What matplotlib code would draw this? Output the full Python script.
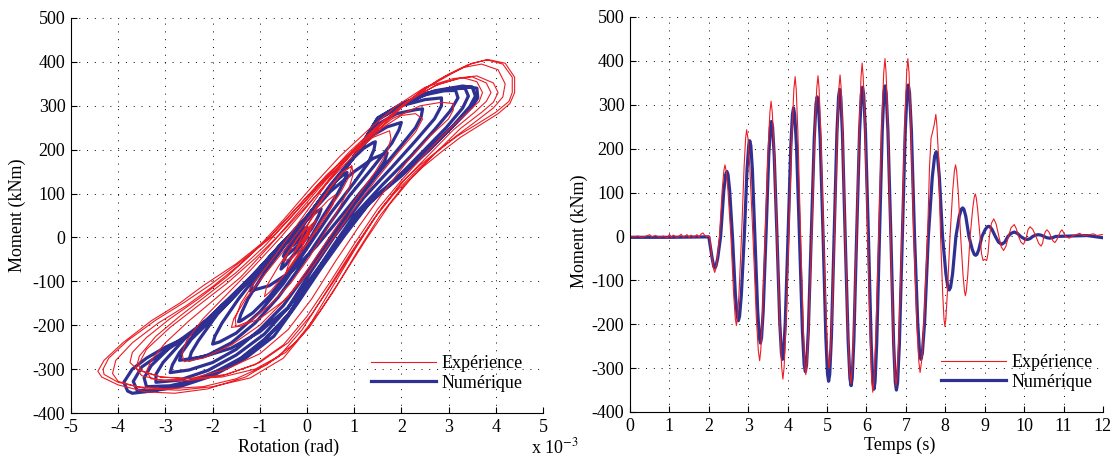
import numpy as np
import matplotlib.pyplot as plt

plt.rcParams['font.family'] = ['Liberation Serif', 'DejaVu Serif']
plt.rcParams['mathtext.fontset'] = 'stix'
plt.rcParams['font.size'] = 13
plt.rcParams['axes.unicode_minus'] = False

red = '#ec1c24'
blue = '#2e3192'

# ---- left: moment vs rotation (rotation in 1e-3 rad) ----
# numerical model, one line per half-cycle
rot_num = [
    0.0, -0.25, -0.45, -0.55,
    -0.5, -0.3, 0.0, 0.3, 0.6, 0.8, 0.85,
    0.8, 0.65, 0.35, 0.0, -0.4, -0.8, -1.15, -1.4, -1.45,
    -1.4, -1.25, -0.9, -0.45, 0.0, 0.5, 0.9, 1.2, 1.4, 1.45,
    1.42, 1.3, 1.0, 0.5, 0.0, -0.5, -1.0, -1.5, -1.85, -2.0,
    -1.95, -1.8, -1.45, -1.0, -0.5, 0.0, 0.55, 1.0, 1.35, 1.7, 2.0,
    1.95, 1.8, 1.4, 0.9, 0.4, -0.1, -0.6, -1.1, -1.6, -2.1, -2.5,
    -2.45, -2.3, -1.9, -1.4, -0.9, -0.45, 0.0, 0.55, 1.04, 1.45, 1.9, 2.3, 2.45,
    2.42, 2.3, 2.0, 1.5, 1.0, 0.5, 0.0, -0.5, -1.0, -1.5, -2.0, -2.5, -2.9,
    -2.85, -2.7, -2.3, -1.85, -1.45, -1.0, -0.5, 0.0, 0.55, 1.04, 1.5, 2.0, 2.5, 2.85,
    2.85, 2.7, 2.3, 1.8, 1.2, 0.6, 0.1, -0.4, -0.9, -1.5, -2.1, -2.7, -3.2,
    -3.2, -3.05, -2.6, -2.2, -1.85, -1.45, -1.0, -0.5, 0.0, 0.55, 1.04, 1.5, 2.0, 2.5, 2.9, 3.15,
    3.2, 3.05, 2.7, 2.2, 1.6, 1.0, 0.55, 0.1, -0.35, -0.9, -1.5, -2.2, -2.9, -3.4,
    -3.45, -3.3, -2.9, -2.45, -2.0, -1.5, -1.0, -0.5, 0.0, 0.55, 1.04, 1.5, 2.0, 2.5, 3.0, 3.35,
    3.42, 3.3, 2.95, 2.45, 1.9, 1.3, 0.8, 0.3, -0.2, -0.7, -1.3, -2.0, -2.7, -3.3, -3.6,
    -3.68, -3.5, -3.0, -2.6, -2.2, -1.75, -1.2, -0.6, 0.0, 0.55, 1.04, 1.5, 2.0, 2.6, 3.1, 3.5,
    3.57, 3.45, 3.1, 2.6, 2.0, 1.35, 0.9, 0.5, 0.06, -0.42, -0.9, -1.4, -1.9, -2.6, -3.3, -3.7, -3.8,
    -3.88, -3.7, -3.4, -3.0, -2.6, -2.2, -1.85, -1.0, -0.5, 0.0, 0.55, 1.04, 1.5, 2.0, 2.7, 3.3, 3.6,
    3.62, 3.5, 3.2, 2.67, 1.96, 1.3, 0.9, 0.55, 0.1, -0.4, -1.0, -1.6, -2.2, -2.7,
    -2.65, -2.45, -2.0, -1.5, -1.0, -0.5, 0.0, 0.5, 1.0, 1.4, 1.7,
    1.65, 1.5, 1.15, 0.7, 0.2, -0.3, -0.8, -1.2,
    -1.15, -0.95, -0.55, -0.15, 0.15, 0.3,
    0.25, 0.1, -0.15, -0.4, -0.5,
    -0.45, -0.3, -0.1, 0.0, -0.05, -0.2, -0.3, -0.2, -0.1, -0.12, -0.2, -0.15,
]
mom_num = [
    0, -35, -62, -72,
    -55, -10, 40, 90, 128, 145, 148,
    130, 100, 50, -15, -80, -135, -172, -190, -192,
    -175, -140, -80, -15, 45, 120, 172, 203, 216, 218,
    200, 170, 125, 55, -25, -105, -170, -218, -238, -243,
    -225, -195, -140, -78, -12, 48, 122, 185, 230, 252, 262,
    245, 215, 160, 95, 20, -60, -135, -195, -240, -268, -280,
    -262, -235, -175, -118, -62, -5, 47, 122, 190, 255, 282, 291, 293,
    275, 250, 210, 145, 75, 0, -80, -155, -210, -255, -285, -302, -308,
    -290, -262, -210, -160, -120, -70, -10, 45, 120, 190, 268, 300, 314, 318,
    300, 270, 220, 160, 90, 5, -75, -160, -220, -268, -303, -325, -330,
    -312, -285, -232, -195, -160, -120, -70, -10, 45, 120, 190, 270, 302, 325, 334, 335,
    318, 290, 245, 185, 120, 50, -20, -95, -170, -235, -285, -320, -338, -340,
    -320, -292, -250, -215, -178, -125, -70, -10, 45, 120, 190, 272, 303, 328, 338, 340,
    322, 295, 250, 195, 135, 75, 5, -70, -150, -225, -275, -315, -340, -350, -348,
    -328, -295, -258, -230, -198, -152, -92, -22, 45, 120, 190, 272, 304, 330, 340, 343,
    322, 298, 255, 200, 140, 82, 25, -35, -100, -180, -232, -275, -304, -334, -350, -355, -350,
    -330, -300, -275, -250, -230, -198, -160, -70, -10, 45, 120, 190, 270, 302, 334, 345, 340,
    318, 298, 265, 209, 140, 80, 30, -25, -90, -160, -215, -252, -272, -280,
    -262, -232, -185, -130, -70, -10, 45, 105, 150, 180, 193,
    175, 150, 105, 45, -20, -75, -110, -122,
    -105, -75, -25, 25, 55, 65,
    50, 20, -15, -38, -43,
    -30, -5, 18, 23, 10, -10, -18, -5, 8, 3, -5, 0,
]

# experiment, one line per half-cycle
rot_exp = [
    0.0, -0.1, 0.06, -0.06, 0.03, -0.2, -0.4, -0.45,
    -0.4, -0.25, -0.05, 0.2, 0.5, 0.75, 0.95,
    0.98, 0.9, 0.7, 0.4, 0.05, -0.35, -0.8, -1.2, -1.5,
    -1.52, -1.4, -1.1, -0.7, -0.3, 0.1, 0.5, 0.95, 1.4, 1.75,
    1.78, 1.7, 1.45, 1.05, 0.6, 0.1, -0.4, -1.0, -1.6, -2.2, -2.6,
    -2.65, -2.55, -2.2, -1.7, -1.2, -0.6, 0.0, 0.6, 1.2, 1.8, 2.4, 2.85, 3.1, 3.1,
    3.0, 2.6, 2.1, 1.6, 1.1, 0.6, 0.1, -0.4, -1.0, -1.7, -2.4, -3.0, -3.3, -3.4,
    -3.3, -3.0, -2.5, -2.0, -1.4, -0.8, -0.2, 0.4, 1.0, 1.6, 2.2, 2.8, 3.3, 3.6, 3.72, 3.65,
    3.4, 3.0, 2.5, 2.0, 1.5, 1.0, 0.5, 0.0, -0.5, -1.1, -1.8, -2.5, -3.1, -3.5, -3.62,
    -3.55, -3.2, -2.7, -2.1, -1.5, -0.9, -0.3, 0.3, 0.9, 1.5, 2.1, 2.7, 3.2, 3.5, 3.8, 3.9, 3.8,
    3.55, 3.1, 2.6, 2.1, 1.6, 1.1, 0.6, 0.1, -0.4, -1.0, -1.7, -2.4, -3.1, -3.6, -3.75,
    -3.7, -3.4, -2.9, -2.3, -1.7, -1.1, -0.5, 0.1, 0.7, 1.3, 1.9, 2.5, 3.1, 3.6, 3.95, 4.05, 3.95,
    3.7, 3.25, 2.75, 2.25, 1.75, 1.25, 0.75, 0.25, -0.25, -0.85, -1.5, -2.2, -3.0, -3.6, -4.0, -4.12,
    -4.05, -3.7, -3.15, -2.55, -2.0, -1.35, -0.75, -0.15, 0.45, 1.05, 1.6, 2.2, 2.8, 3.3, 3.7, 4.05, 4.2, 4.15,
    3.95, 3.55, 3.15, 2.7, 2.3, 1.85, 1.4, 0.9, 0.4, -0.1, -0.6, -1.3, -2.1, -2.8, -3.4, -4.0, -4.35, -4.43,
    -4.3, -3.9, -3.3, -2.7, -2.2, -1.5, -0.8, -0.2, 0.4, 1.0, 1.5, 2.0, 2.5, 3.0, 3.4, 3.8, 4.15, 4.35, 4.35, 4.28,
    4.0, 3.6, 3.2, 2.8, 2.4, 2.0, 1.5, 1.0, 0.5, 0.0, -0.5, -1.2, -2.0, -2.7, -3.4, -4.0, -4.3, -4.32,
    -4.2, -3.8, -3.2, -2.6, -2.05, -1.4, -0.7, -0.1, 0.5, 1.1, 1.6, 2.1, 2.6, 3.1, 3.5, 3.85, 4.2, 4.4, 4.4, 4.3,
    4.05, 3.65, 3.25, 2.85, 2.45, 2.05, 1.55, 1.05, 0.55, 0.05, -0.45, -1.1, -1.8, -2.5, -3.1, -3.5, -3.57,
    -3.4, -2.9, -2.3, -1.7, -1.1, -0.5, 0.1, 0.7, 1.2, 1.6, 2.0, 2.3, 2.45,
    2.3, 1.9, 1.45, 1.0, 0.5, 0.0, -0.5, -1.0, -1.4, -1.6,
    -1.55, -1.3, -0.9, -0.45, 0.0, 0.4, 0.75, 0.95,
    0.9, 0.7, 0.35, 0.0, -0.4, -0.75, -0.9,
    -0.85, -0.6, -0.25, 0.15, 0.45, 0.6,
    0.55, 0.3, 0.0, -0.3, -0.5,
    -0.4, -0.15, 0.2, 0.1, -0.1, -0.25, -0.1, 0.1, 0.0, -0.1, 0.05, -0.05, 0.05, 0.0,
]
mom_exp = [
    0, -12, 8, -6, 4, -40, -72, -82,
    -65, -30, 15, 65, 115, 148, 163,
    145, 115, 70, 15, -45, -105, -155, -190, -203,
    -185, -150, -100, -45, 15, 75, 135, 190, 228, 243,
    225, 195, 150, 90, 20, -60, -135, -200, -245, -275, -283,
    -265, -235, -185, -130, -75, -5, 70, 150, 220, 270, 300, 308, 305, 290,
    270, 230, 170, 100, 25, -55, -140, -210, -265, -300, -320, -326, -322, -305,
    -280, -240, -190, -145, -90, -20, 55, 130, 200, 262, 315, 350, 364, 355, 330, 310,
    285, 245, 190, 130, 65, -15, -100, -180, -245, -290, -315, -326, -325, -315, -298,
    -270, -225, -180, -130, -80, -20, 50, 125, 195, 255, 308, 345, 362, 366, 352, 330, 310,
    285, 245, 190, 135, 70, -10, -95, -175, -240, -285, -312, -322, -318, -300, -285,
    -262, -228, -185, -140, -90, -30, 40, 115, 185, 245, 300, 342, 362, 368, 352, 330, 308,
    285, 248, 195, 140, 75, -5, -90, -172, -240, -290, -322, -340, -345, -340, -328, -310,
    -280, -240, -195, -155, -112, -55, 5, 75, 145, 205, 260, 315, 360, 387, 395, 382, 350, 320,
    295, 262, 230, 190, 150, 100, 40, -40, -125, -210, -272, -318, -345, -355, -352, -336, -318, -305,
    -280, -240, -190, -150, -110, -60, 0, 70, 140, 200, 250, 300, 340, 372, 393, 405, 395, 365, 330, 310,
    285, 258, 232, 200, 165, 125, 55, -30, -120, -210, -275, -320, -340, -348, -345, -330, -312, -300,
    -275, -235, -188, -148, -108, -55, 5, 75, 145, 205, 255, 305, 345, 375, 397, 405, 397, 365, 330, 305,
    282, 255, 228, 195, 160, 118, 50, -35, -125, -205, -262, -300, -318, -322, -318, -305, -290,
    -255, -205, -155, -105, -48, 15, 85, 155, 210, 250, 278, 282, 270,
    240, 190, 130, 65, -10, -85, -145, -185, -202, -205,
    -185, -140, -85, -25, 40, 100, 148, 163,
    140, 100, 45, -15, -75, -120, -135,
    -110, -65, -10, 50, 85, 97,
    75, 30, -15, -45, -55,
    -35, 5, 40, 20, -10, -32, -5, 27, 5, -18, 22, -5, 15, 0,
]

# ---- right: moment vs time ----
t_num = [
    0.0, 1.0, 2.0,
    2.085, 2.124, 2.15, 2.18, 2.225, 2.3,
    2.38, 2.428, 2.46, 2.488, 2.53, 2.6,
    2.675, 2.72, 2.75, 2.78, 2.825, 2.9,
    2.97, 3.012, 3.04, 3.066, 3.105, 3.17,
    3.24, 3.282, 3.31, 3.338, 3.38, 3.45,
    3.52, 3.562, 3.59, 3.618, 3.66, 3.73,
    3.8, 3.842, 3.87, 3.898, 3.94, 4.01,
    4.08, 4.122, 4.15, 4.18, 4.225, 4.3,
    4.375, 4.42, 4.45, 4.48, 4.525, 4.6,
    4.675, 4.72, 4.75, 4.78, 4.825, 4.9,
    4.97, 5.012, 5.04, 5.068, 5.11, 5.18,
    5.25, 5.292, 5.32, 5.348, 5.39, 5.46,
    5.535, 5.58, 5.61, 5.638, 5.68, 5.75,
    5.825, 5.87, 5.9, 5.93, 5.975, 6.05,
    6.12, 6.162, 6.19, 6.218, 6.26, 6.33,
    6.4, 6.442, 6.47, 6.5, 6.545, 6.62,
    6.69, 6.732, 6.76, 6.79, 6.835, 6.91,
    6.985, 7.03, 7.06, 7.092, 7.14, 7.22,
    7.3, 7.348, 7.38, 7.418, 7.475, 7.57,
    7.67, 7.73, 7.77, 7.802, 7.85, 7.93,
    8.015, 8.066, 8.1, 8.134, 8.185, 8.27,
    8.355, 8.406, 8.44, 8.472, 8.52, 8.6,
    8.685, 8.736, 8.77, 8.802, 8.85, 8.93,
    9.015, 9.066, 9.1, 9.134, 9.185, 9.27,
    9.35, 9.43, 9.51, 9.59,
    9.67, 9.75, 9.83, 9.91,
    10.0, 10.08, 10.15, 10.22,
    10.29, 10.36, 10.43, 10.5,
    10.58, 10.65, 10.72, 10.8,
    11.2, 11.6, 12.0,
]
m_num = [
    -2, -2, -1,
    -50, -68, -72, -68, -50, 0,
    104, 141, 148, 141, 104, 0,
    -134, -182, -192, -182, -134, 0,
    153, 207, 218, 207, 153, 0,
    -170, -231, -243, -231, -170, 0,
    183, 249, 262, 249, 183, 0,
    -196, -266, -280, -266, -196, 0,
    205, 278, 293, 278, 205, 0,
    -216, -293, -308, -293, -216, 0,
    223, 302, 318, 302, 223, 0,
    -231, -314, -330, -314, -231, 0,
    235, 318, 335, 318, 235, 0,
    -238, -323, -340, -323, -238, 0,
    238, 323, 340, 323, 238, 0,
    -244, -331, -348, -331, -244, 0,
    240, 326, 343, 326, 240, 0,
    -245, -333, -350, -333, -245, 0,
    242, 328, 345, 328, 242, 0,
    -196, -266, -280, -266, -196, 0,
    135, 183, 193, 183, 135, 0,
    -85, -116, -122, -116, -85, 0,
    46, 62, 65, 62, 46, 0,
    -30, -41, -43, -41, -30, 0,
    16, 22, 23, 22, 16, 0,
    -13, -18, -13, 0,
    7, 10, 7, 0,
    -5, -7, -5, 0,
    3, 4, 3, 0,
    -3, -4, -3, 0,
    1, 2, -3,
]

t_exp = [
    0.0, 0.1, 0.2, 0.3, 0.45, 0.5, 0.55, 0.65, 0.75, 0.85, 0.95, 1.0, 1.05, 1.1,
    1.2, 1.3, 1.35, 1.45, 1.5, 1.55, 1.62, 1.7, 1.75, 1.8, 1.85, 1.9, 1.95, 2.02,
    2.085, 2.124, 2.15, 2.174, 2.21, 2.27,
    2.34, 2.382, 2.41, 2.44, 2.485, 2.56,
    2.63, 2.672, 2.7, 2.726, 2.765, 2.83,
    2.895, 2.934, 2.96, 2.992, 3.04, 3.12,
    3.205, 3.256, 3.29, 3.318, 3.36, 3.43,
    3.505, 3.55, 3.58, 3.61, 3.655, 3.73,
    3.805, 3.85, 3.88, 3.91, 3.955, 4.03,
    4.11, 4.158, 4.19, 4.218, 4.26, 4.33,
    4.395, 4.434, 4.46, 4.49, 4.535, 4.61,
    4.69, 4.738, 4.77, 4.798, 4.84, 4.91,
    4.98, 5.022, 5.05, 5.078, 5.12, 5.19,
    5.26, 5.302, 5.33, 5.357, 5.395, 5.46,
    5.53, 5.572, 5.6, 5.63, 5.675, 5.75,
    5.82, 5.862, 5.89, 5.918, 5.96, 6.03,
    6.095, 6.134, 6.16, 6.19, 6.235, 6.31,
    6.39, 6.438, 6.47, 6.498, 6.54, 6.61,
    6.68, 6.722, 6.75, 6.78, 6.825, 6.9,
    6.975, 7.02, 7.05, 7.08, 7.125, 7.2,
    7.28, 7.328, 7.36, 7.398, 7.455, 7.55,
    7.6, 7.64, 7.67, 7.72, 7.76, 7.785, 7.83, 7.88,
    7.935, 7.968, 7.99, 8.014, 8.05, 8.12,
    8.19, 8.232, 8.26, 8.287, 8.325, 8.39,
    8.45, 8.486, 8.51, 8.534, 8.57, 8.63,
    8.695, 8.734, 8.76, 8.784, 8.82, 8.88,
    8.92, 8.96, 9.0, 9.05, 9.085, 9.12,
    9.17, 9.23, 9.29, 9.36,
    9.42, 9.48, 9.54, 9.6,
    9.67, 9.75, 9.8, 9.86,
    9.92, 9.98, 10.02, 10.06,
    10.1, 10.15, 10.22, 10.3,
    10.37, 10.43, 10.47, 10.5,
    10.54, 10.58, 10.63, 10.68,
    10.73, 10.78, 10.82, 10.87,
    10.92, 10.96, 11.0, 11.05,
    11.14, 11.25, 11.35, 11.41, 11.5, 11.6, 11.7, 11.76, 11.85, 11.95, 12.0,
]
m_exp = [
    0, -1, 1, -2, 2, 4, -1, 2, -2, 1, -4, 5, -2, 3,
    -3, 5, -2, 4, -3, 3, -2, 4, -2, 5, 8, 2, 0, 0,
    -53, -75, -82, -75, -53, 0,
    106, 150, 163, 150, 106, 0,
    -132, -187, -203, -187, -132, 0,
    158, 224, 243, 224, 158, 0,
    -184, -260, -283, -260, -184, 0,
    200, 283, 308, 283, 200, 0,
    -211, -299, -325, -299, -211, 0,
    237, 335, 364, 335, 237, 0,
    -205, -290, -315, -290, -205, 0,
    238, 337, 366, 337, 238, 0,
    -195, -276, -300, -276, -195, 0,
    239, 339, 368, 339, 239, 0,
    -218, -308, -335, -308, -218, 0,
    257, 363, 395, 363, 257, 0,
    -231, -327, -355, -327, -231, 0,
    263, 373, 405, 373, 263, 0,
    -221, -313, -340, -313, -221, 0,
    263, 373, 405, 373, 263, 0,
    -202, -285, -310, -285, -202, 0,
    160, 225, 235, 255, 278, 255, 180, 0,
    -133, -189, -205, -189, -133, 0,
    106, 150, 163, 150, 106, 0,
    -88, -124, -135, -124, -88, 0,
    63, 89, 97, 89, 63, 0,
    -40, -55, -52, -55, -38, 0,
    30, 40, 28, 0,
    -24, -32, -22, 0,
    20, 27, 18, 0,
    -13, -18, -12, 0,
    16, 22, 16, 0,
    -16, -22, -15, 0,
    11, 15, 10, 0,
    -10, -14, -9, 0,
    11, 15, 9, 0,
    -4, 2, 5, 7, 2, 3, 5, 6, 2, 4, 4,
]

labels = ['Expérience', 'Numérique']


def style(ax):
    for s in ['top', 'right']:
        ax.spines[s].set_visible(False)
    ax.tick_params(direction='in', length=4, width=0.8, pad=4, labelsize=13)
    ax.grid(True, color='k', linestyle=(0, (1, 7)), linewidth=0.7)
    ax.set_axisbelow(True)


fig = plt.figure(figsize=(11.16, 4.59), dpi=100)
ax1 = fig.add_axes([0.0636, 0.1002, 0.4229, 0.8606])
ax2 = fig.add_axes([0.5645, 0.1024, 0.4238, 0.8606])

# left panel
hn, = ax1.plot(rot_num, mom_num, color=blue, lw=2.3, solid_joinstyle='round')
he, = ax1.plot(rot_exp, mom_exp, color=red, lw=0.8)
ax1.set_xlim(-5, 5)
ax1.set_ylim(-400, 500)
ax1.set_xticks(np.arange(-5, 6, 1))
ax1.set_yticks(np.arange(-400, 501, 100))
style(ax1)
ax1.set_xlabel('Rotation (rad)', fontsize=13)
ax1.xaxis.set_label_coords(0.46, -0.066)
ax1.set_ylabel('Moment (kNm)', fontsize=13)
ax1.yaxis.set_label_coords(-0.095, 0.5)
ax1.text(0.975, -0.088, r'x 10$^{-3}$', transform=ax1.transAxes,
         ha='left', va='center', fontsize=13)
ax1.legend([he, hn], labels, loc='upper left', bbox_to_anchor=(0.636, 0.147),
           frameon=False, handlelength=3.6, handletextpad=0.3,
           labelspacing=0.15, borderpad=0, borderaxespad=0, fontsize=13)

# right panel
hn2, = ax2.plot(t_num, m_num, color=blue, lw=2.3, solid_joinstyle='round')
he2, = ax2.plot(t_exp, m_exp, color=red, lw=0.8)
ax2.set_xlim(0, 12)
ax2.set_ylim(-400, 500)
ax2.set_xticks(np.arange(0, 13, 1))
ax2.set_yticks(np.arange(-400, 501, 100))
style(ax2)
ax2.set_xlabel('Temps (s)', fontsize=13)
ax2.xaxis.set_label_coords(0.571, -0.063)
ax2.set_ylabel('Moment (kNm)', fontsize=13)
ax2.yaxis.set_label_coords(-0.089, 0.458)
ax2.legend([he2, hn2], labels, loc='upper left', bbox_to_anchor=(0.657, 0.147),
           frameon=False, handlelength=3.6, handletextpad=0.3,
           labelspacing=0.15, borderpad=0, borderaxespad=0, fontsize=13)

fig.savefig('out.png', dpi=100)
